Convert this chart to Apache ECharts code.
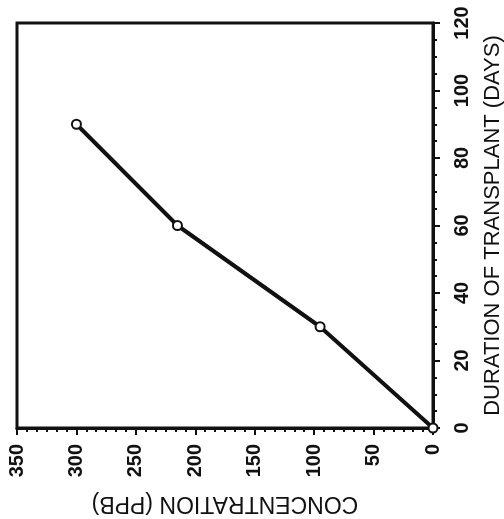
<!DOCTYPE html>
<html>
<head>
<meta charset="utf-8">
<script src="https://cdn.jsdelivr.net/npm/echarts@6/dist/echarts.min.js"></script>
<style>html,body{margin:0;padding:0;background:#fff;}#c{width:504px;height:519px;}</style>
</head>
<body>
<div id="c"></div>
<script>
var concentration = [0, 95, 215, 300];
var duration = [0, 30, 60, 90];
var concTicks = [0, 50, 100, 150, 200, 250, 300, 350];
var durTicks = [0, 20, 40, 60, 80, 100, 120];
var xName = 'CONCENTRATION (PPB)';
var yName = 'DURATION OF TRANSPLANT (DAYS)';

var chart = echarts.init(document.getElementById('c'), null, {renderer: 'canvas'});
var font = 'Liberation Sans, Arial, sans-serif';
chart.setOption({
  animation: false,
  grid: {left: 17, right: 71, top: 23, bottom: 91, containLabel: false, outerBoundsMode: 'none',
         show: true, borderColor: '#111', borderWidth: 3, backgroundColor: '#fff'},
  xAxis: {
    type: 'value', inverse: true, min: concTicks[0], max: concTicks[concTicks.length - 1], interval: 50,
    position: 'bottom',
    name: xName, nameLocation: 'middle', nameRotate: 180, nameGap: 64,
    nameTextStyle: {fontFamily: font, fontSize: 23, color: '#111'},
    axisLine: {show: true, onZero: false, lineStyle: {color: '#111', width: 3}},
    axisTick: {show: true, inside: false, length: 7, lineStyle: {color: '#111', width: 2}},
    minorTick: {show: true, splitNumber: 6, length: 4, lineStyle: {color: '#111', width: 2}},
    splitLine: {show: false},
    axisLabel: {rotate: 90, margin: 16, fontFamily: font, fontSize: 20, fontWeight: 'bold', color: '#111'}
  },
  yAxis: {
    type: 'value', min: durTicks[0], max: durTicks[durTicks.length - 1], interval: 20,
    position: 'right',
    name: yName, nameLocation: 'middle', nameRotate: 90, nameGap: 49,
    nameTextStyle: {fontFamily: font, fontSize: 22, color: '#111'},
    axisLine: {show: true, onZero: false, lineStyle: {color: '#111', width: 3}},
    axisTick: {show: true, inside: false, length: 7, lineStyle: {color: '#111', width: 2}},
    minorTick: {show: true, splitNumber: 4, length: 4, lineStyle: {color: '#111', width: 2}},
    splitLine: {show: false},
    axisLabel: {rotate: 90, margin: 19, fontFamily: font, fontSize: 20, fontWeight: 'bold', color: '#111'}
  },
  series: [{
    type: 'line',
    data: concentration.map(function (c, i) { return [c, duration[i]]; }),
    lineStyle: {color: '#111', width: 4},
    symbol: 'circle', symbolSize: 9,
    itemStyle: {color: '#fff', borderColor: '#111', borderWidth: 2},
    z: 5
  }]
});
</script>
</body>
</html>
